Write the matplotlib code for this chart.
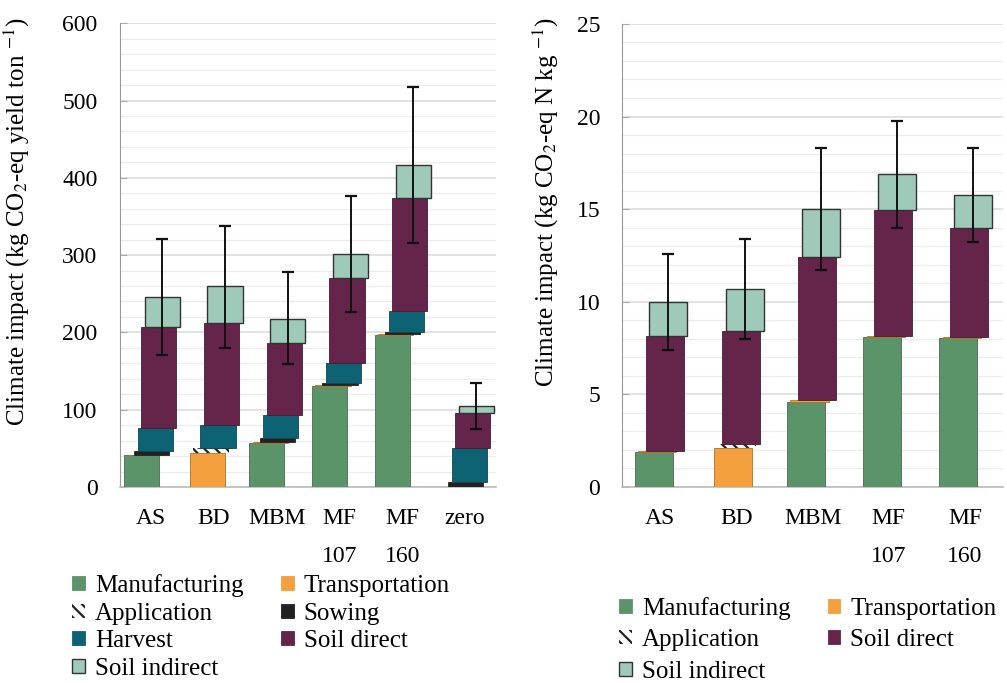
import matplotlib
matplotlib.use("Agg")
import matplotlib.pyplot as plt
import numpy as np
from matplotlib.patches import Patch
from matplotlib.ticker import MultipleLocator

plt.rcParams["font.family"] = ["Liberation Serif", "DejaVu Serif"]
plt.rcParams["mathtext.fontset"] = "stix"
plt.rcParams["hatch.linewidth"] = 1.6

# ---- left panel: per yield ton ----
cats_t = ["AS", "BD", "MBM", "MF\n107", "MF\n160", "zero"]
manufacturing_t = [41, 0, 57, 131, 197, 0]
transportation_t = [1, 44, 1, 1, 1, 0]
application_t = [0, 7, 0, 0, 0, 0]
sowing_t = [4, 0, 5, 3, 3, 6]
harvest_t = [30, 29, 30, 25, 27, 44]
soil_direct_t = [131, 132, 93, 110, 146, 46]
soil_indirect_t = [39, 48, 31, 31, 42, 9]
err_low_t = [171, 180, 159, 227, 316, 75]
err_high_t = [321, 338, 278, 377, 517, 135]

# ---- right panel: per kg N ----
cats_n = ["AS", "BD", "MBM", "MF\n107", "MF\n160"]
manufacturing_n = [1.9, 0, 4.6, 8.1, 8.05]
transportation_n = [0.03, 2.08, 0.12, 0.03, 0.03]
application_n = [0, 0.25, 0, 0, 0]
soil_direct_n = [6.22, 6.07, 7.71, 6.83, 5.92]
soil_indirect_n = [1.85, 2.27, 2.57, 1.92, 1.75]
err_low_n = [7.38, 7.99, 11.72, 14.0, 13.25]
err_high_n = [12.58, 13.37, 18.28, 19.78, 18.28]

C_MAN = "#5b9468"
C_TRA = "#f5a03e"
C_SOW = "#222222"
C_HAR = "#0d6273"
C_SDI = "#65244a"
C_SIN = "#9fc9b9"

styles = {
    "Manufacturing": dict(color=C_MAN, edgecolor="#4a6a50", linewidth=0.6),
    "Transportation": dict(color=C_TRA, edgecolor="#b0702a", linewidth=0.6),
    "Application": dict(facecolor="white", edgecolor="#222222", hatch="\\\\\\", linewidth=0),
    "Sowing": dict(color=C_SOW, edgecolor=C_SOW, linewidth=0.6),
    "Harvest": dict(color=C_HAR, edgecolor="#0a4a57", linewidth=0.6),
    "Soil direct": dict(color=C_SDI, edgecolor="#4a1a36", linewidth=0.6),
    "Soil indirect": dict(facecolor=C_SIN, edgecolor="#333333", linewidth=1.0),
}

FONT = dict(family=["Liberation Serif", "DejaVu Serif"], size=18)


def stacked(ax, cats, layers, low, high, width, off0, step):
    x = np.arange(len(cats))
    bottom = np.zeros(len(cats))
    for k, (name, vals) in enumerate(layers):
        vals = np.array(vals, dtype=float)
        ax.bar(x + off0 + step * k, vals, width, bottom=bottom, zorder=3, **styles[name])
        bottom = bottom + vals
    xe = x + off0 + step * (len(layers) - 1)
    yerr = [bottom - np.array(low), np.array(high) - bottom]
    ax.errorbar(xe, bottom, yerr=yerr, fmt="none", ecolor="#111111",
                elinewidth=1.4, capsize=4.5, capthick=1.6, zorder=4)
    ax.set_xticks(x)
    ax.set_xticklabels(cats, linespacing=2.05)
    ax.set_xlim(-0.5, len(cats) - 0.5)
    for s in ["top", "right"]:
        ax.spines[s].set_visible(False)
    ax.spines["left"].set_color("#999999")
    ax.spines["bottom"].set_color("#bbbbbb")
    ax.spines["bottom"].set_linewidth(1.2)
    ax.tick_params(axis="x", length=0, labelsize=17, pad=15)
    ax.tick_params(axis="y", which="both", direction="in", length=5,
                   color="#aaaaaa", labelsize=17, pad=16)
    ax.yaxis.set_tick_params(which="minor", length=0)
    ax.grid(axis="y", which="minor", color="#ececec", linewidth=1.0, zorder=0)
    ax.grid(axis="y", which="major", color="#dddddd", linewidth=1.2, zorder=0)
    ax.set_axisbelow(True)


fig = plt.figure(figsize=(10.07, 6.83), dpi=100)
ax1 = fig.add_axes([0.119, 0.287, 0.374, 0.679])
ax2 = fig.add_axes([0.618, 0.287, 0.378, 0.678])

layers_t = [("Manufacturing", manufacturing_t), ("Transportation", transportation_t),
            ("Application", application_t), ("Sowing", sowing_t),
            ("Harvest", harvest_t), ("Soil direct", soil_direct_t),
            ("Soil indirect", soil_indirect_t)]
stacked(ax1, cats_t, layers_t, err_low_t, err_high_t, 0.56, -0.16, 0.056)
ax1.set_ylim(0, 600)
ax1.yaxis.set_major_locator(MultipleLocator(100))
ax1.yaxis.set_minor_locator(MultipleLocator(20))
ax1.set_ylabel("Climate impact (kg CO$_2$-eq yield ton $^{-1}$)", fontsize=18)
ax1.yaxis.set_label_coords(-0.233, 0.572)

layers_n = [("Manufacturing", manufacturing_n), ("Transportation", transportation_n),
            ("Application", application_n), ("Soil direct", soil_direct_n),
            ("Soil indirect", soil_indirect_n)]
stacked(ax2, cats_n, layers_n, err_low_n, err_high_n, 0.5, -0.09, 0.049)
ax2.set_ylim(0, 25)
ax2.yaxis.set_major_locator(MultipleLocator(5))
ax2.yaxis.set_minor_locator(MultipleLocator(1))
ax2.set_ylabel("Climate impact (kg CO$_2$-eq N kg $^{-1}$)", fontsize=18)
ax2.yaxis.set_label_coords(-0.16, 0.615)


def handle(name):
    return Patch(label=name, **styles[name])


order_t = ["Manufacturing", "Application", "Harvest", "Soil indirect",
           "Transportation", "Sowing", "Soil direct"]
fig.legend(handles=[handle(n) for n in order_t], ncol=2, frameon=False,
           loc="upper left", bbox_to_anchor=(0.062, 0.174), prop=FONT,
           handlelength=0.5, handleheight=0.5, handletextpad=0.4,
           columnspacing=1.5, labelspacing=0.22, borderaxespad=0)

order_n = ["Manufacturing", "Application", "Soil indirect",
           "Transportation", "Soil direct"]
fig.legend(handles=[handle(n) for n in order_n], ncol=2, frameon=False,
           loc="upper left", bbox_to_anchor=(0.605, 0.141), prop=FONT,
           handlelength=0.5, handleheight=0.5, handletextpad=0.4,
           columnspacing=1.5, labelspacing=0.38, borderaxespad=0)

fig.savefig("out.png", dpi=100)
